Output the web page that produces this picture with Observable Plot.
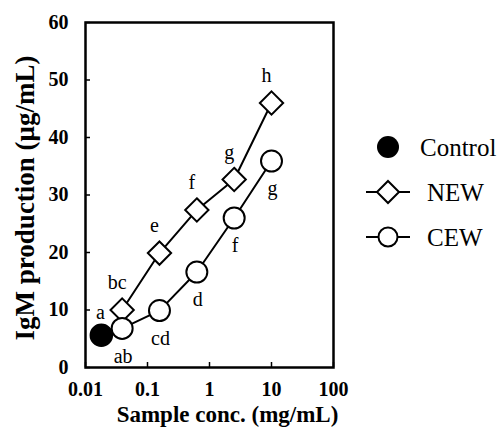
<!DOCTYPE html>
<html><head><meta charset="utf-8">
<script src="https://cdn.jsdelivr.net/npm/d3@7"></script>
<script src="https://cdn.jsdelivr.net/npm/@observablehq/plot@0.6"></script>
<style>
body{margin:0;background:#fff}
#wrap{position:relative;width:502px;height:430px;overflow:hidden}
#legend{position:absolute;left:0;top:0}
</style>
</head><body><div id="wrap"></div>
<script>
// ---- data ----
const concentrations = [0.039, 0.156, 0.625, 2.5, 10];
const newValues = [10.0, 19.9, 27.4, 32.7, 46.0];
const cewValues = [6.8, 9.9, 16.6, 26.0, 35.9];
const controlConc = [0.018];
const controlValues = [5.6];
const newLetters = ["bc", "e", "f", "g", "h"];
const cewLetters = ["ab", "cd", "d", "f", "g"];
const controlLetters = ["a"];
const xTicks = [0.01, 0.1, 1, 10, 100];
const yTicks = [0, 10, 20, 30, 40, 50, 60];
const seriesNames = ["Control", "NEW", "CEW"];
const xTitle = "Sample conc. (mg/mL)";
const yTitle = "IgM production (μg/mL)";

// ---- build ----
const newData = concentrations.map((x, i) => ({x, y: newValues[i], label: newLetters[i]}));
const cewData = concentrations.map((x, i) => ({x, y: cewValues[i], label: cewLetters[i]}));
const controlData = controlConc.map((x, i) => ({x, y: controlValues[i], label: controlLetters[i]}));

const font = '"Liberation Serif", Tinos, "Times New Roman", Times, "DejaVu Serif", "Noto Serif", serif';

const chart = Plot.plot({
  width: 502, height: 430,
  marginLeft: 85, marginRight: 169, marginTop: 22, marginBottom: 63,
  style: {fontFamily: font, background: "white", color: "black", overflow: "visible"},
  x: {type: "log", domain: [0.01, 100]},
  y: {domain: [0, 60]},
  marks: [
    Plot.axisX(xTicks, {tickSize: -5, tickPadding: 19, tickFormat: d => String(d), fontSize: 20, fontWeight: "bold", fontFamily: font, label: null, stroke: "black", strokeWidth: 1.5}),
    Plot.axisY(yTicks, {tickSize: -5, tickPadding: 22, tickFormat: d => String(d), fontSize: 20, fontWeight: "bold", fontFamily: font, label: null, stroke: "black", strokeWidth: 1.5}),
    Plot.frame({stroke: "black", strokeWidth: 2.5}),
    Plot.line(newData, {x: "x", y: "y", stroke: "black", strokeWidth: 2}),
    Plot.line(cewData, {x: "x", y: "y", stroke: "black", strokeWidth: 2}),
    Plot.dot(newData, {x: "x", y: "y", symbol: "diamond2", r: 10.5, fill: "white", stroke: "black", strokeWidth: 2}),
    Plot.dot(cewData, {x: "x", y: "y", r: 10.5, fill: "white", stroke: "black", strokeWidth: 2}),
    Plot.dot(controlData, {x: "x", y: "y", r: 11, fill: "black", stroke: "black"}),
    Plot.text(newData, {x: "x", y: "y", text: "label", dx: -5, dy: -27, fontSize: 20, fontFamily: font, fill: "black"}),
    Plot.text(cewData, {x: "x", y: "y", text: "label", dx: 1, dy: 28, fontSize: 20, fontFamily: font, fill: "black"}),
    Plot.text(controlData, {x: "x", y: "y", text: "label", dx: -1, dy: -23, fontSize: 20, fontFamily: font, fill: "black"}),
    Plot.text([xTitle], {frameAnchor: "bottom", dy: 54, dx: 18, fontSize: 23, fontWeight: "bold", fontFamily: font, fill: "black"}),
    Plot.text([yTitle], {frameAnchor: "left", textAnchor: "middle", rotate: -90, dx: -60, dy: 3, fontSize: 27, fontWeight: "bold", fontFamily: font, fill: "black"})
  ]
});
const wrap = document.getElementById("wrap");
wrap.appendChild(chart);

// ---- legend (right of the frame) ----
const lg = d3.select(wrap).append("svg").attr("id", "legend")
  .attr("width", 502).attr("height", 430);
const lx = 388, ly0 = 147, lstep = 45;
seriesNames.forEach((name, i) => {
  const g = lg.append("g").attr("transform", `translate(${lx},${ly0 + i * lstep})`);
  if (name === "Control") {
    g.append("circle").attr("r", 11).attr("fill", "black");
  } else {
    g.append("line").attr("x1", -22).attr("x2", 22).attr("stroke", "black").attr("stroke-width", 2);
    if (name === "NEW") {
      g.append("path").attr("d", "M0,-11L11,0L0,11L-11,0Z").attr("fill", "white").attr("stroke", "black").attr("stroke-width", 2);
    } else {
      g.append("circle").attr("r", 9.5).attr("fill", "white").attr("stroke", "black").attr("stroke-width", 2);
    }
  }
  g.append("text").attr("x", name === "Control" ? 32 : 39).attr("y", 0).attr("dy", "0.35em")
    .attr("font-family", font).attr("font-size", 25).attr("fill", "black").text(name);
});
</script>
</body></html>
